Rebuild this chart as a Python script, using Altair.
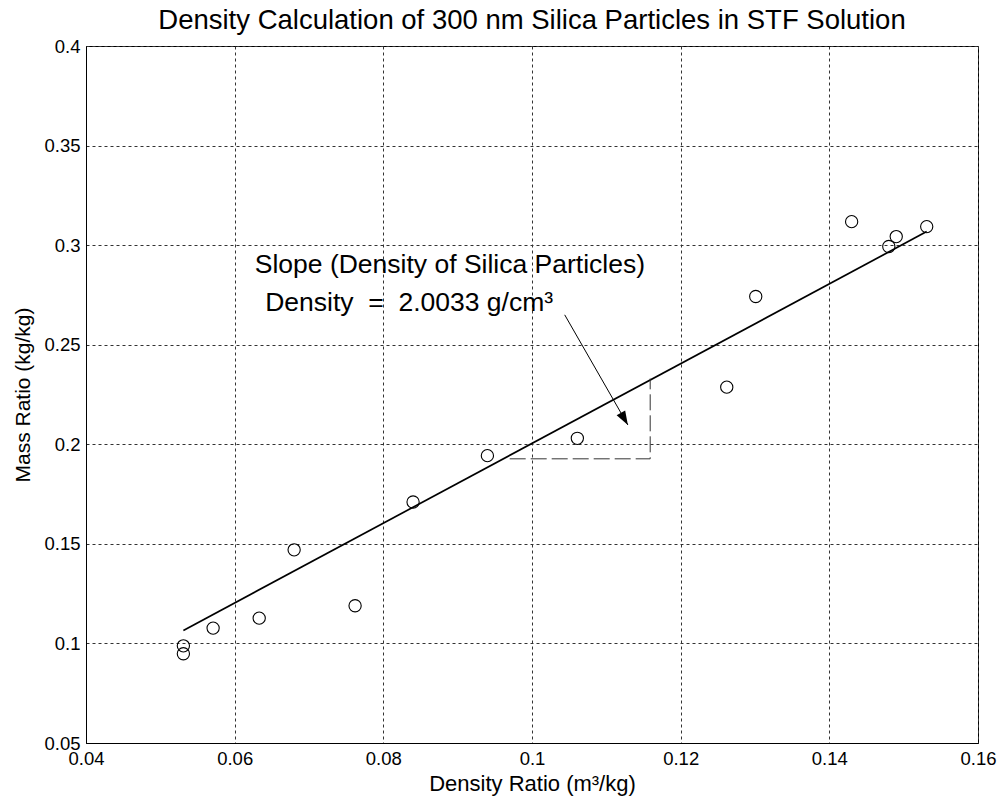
import altair as alt
import pandas as pd

# Measured data points (density ratio, mass ratio)
x_vals = [0.0531, 0.0531, 0.0571, 0.0633, 0.068, 0.0762, 0.084, 0.094,
          0.1061, 0.1262, 0.1301, 0.143, 0.148, 0.149, 0.1531]
y_vals = [0.0988, 0.0948, 0.1077, 0.1127, 0.147, 0.1189, 0.171, 0.1943,
          0.203, 0.2287, 0.2742, 0.3118, 0.2993, 0.3043, 0.3093]

# Linear fit line end points
fit_x = [0.0531, 0.1531]
fit_y = [0.1065, 0.3068]

# Slope triangle (dashed)
tri_x = [0.097, 0.1159, 0.1159]
tri_y = [0.1927, 0.1927, 0.233]

# Annotation arrow
arrow_x = [0.1044, 0.1129]
arrow_y = [0.265, 0.2097]

# Annotation texts
note_text = ["Slope (Density of Silica Particles)",
             "Density\u00a0\u00a0=\u00a0\u00a02.0033 g/cm³"]
note_x = [0.0627, 0.0641]
note_y = [0.290, 0.271]

x_ticks = [0.04, 0.06, 0.08, 0.10, 0.12, 0.14, 0.16]
y_ticks = [0.05, 0.10, 0.15, 0.20, 0.25, 0.30, 0.35, 0.40]

FONT = "Liberation Sans"

pts = pd.DataFrame({"x": x_vals, "y": y_vals})
fit = pd.DataFrame({"x": fit_x, "y": fit_y})
tri = pd.DataFrame({"x": tri_x, "y": tri_y, "o": list(range(len(tri_x)))})
arr = pd.DataFrame({"x": arrow_x, "y": arrow_y, "o": list(range(len(arrow_x)))})
head = arr.iloc[[-1]]
notes = pd.DataFrame({"x": note_x, "y": note_y, "t": note_text})

xscale = alt.Scale(domain=[0.04, 0.16], nice=False, zero=False)
yscale = alt.Scale(domain=[0.05, 0.40], nice=False, zero=False)

xaxis = alt.Axis(values=x_ticks, format="~g", title="Density Ratio (m³/kg)",
                 titleX=446, titleY=47, titleBaseline="alphabetic",
                 titleAlign="center", titleFontSize=22, labelFlush=False)
yaxis = alt.Axis(values=y_ticks, format="~g", title="Mass Ratio (kg/kg)",
                 titleX=-63, titleY=348.5, titleBaseline="middle",
                 titleAlign="center", titleAngle=-90, titleFontSize=21,
                 labelFlush=False)

def X():
    return alt.X("x:Q", scale=xscale, axis=xaxis)

def Y():
    return alt.Y("y:Q", scale=yscale, axis=yaxis)

points = alt.Chart(pts).mark_point(shape="circle", filled=False, color="black",
                                   size=150, strokeWidth=1.1, opacity=1).encode(x=X(), y=Y())

fitline = alt.Chart(fit).mark_line(color="black", strokeWidth=1.7).encode(x=X(), y=Y())

triangle = alt.Chart(tri).mark_line(color="#333333", strokeWidth=1,
                                    strokeDash=[16, 5]).encode(x=X(), y=Y(), order="o:Q")

arrow = alt.Chart(arr).mark_line(color="black", strokeWidth=1).encode(x=X(), y=Y(), order="o:Q")

arrowhead = alt.Chart(head).mark_point(
    shape="M0,0 L-0.7,2 L0.7,2 Z", filled=True, color="black", size=196,
    angle=150, opacity=1, strokeWidth=0
).encode(x=X(), y=Y())

text = alt.Chart(notes).mark_text(align="left", baseline="middle", fontSize=26.5,
                                  font=FONT, color="black").encode(x=X(), y=Y(), text="t:N")

chart = alt.layer(points, fitline, triangle, arrow, arrowhead, text).properties(
    width=892, height=697,
    background="white",
    title=alt.TitleParams("Density Calculation of 300 nm Silica Particles in STF Solution",
                          anchor="middle", fontSize=27.5, font=FONT, fontWeight="normal",
                          color="black", baseline="alphabetic", offset=-19),
    autosize=alt.AutoSizeParams(type="none"),
    padding={"left": 86, "top": 46, "right": 22, "bottom": 68},
).configure_view(stroke="black", strokeWidth=1).configure_axis(
    labelFont=FONT, labelFontSize=18.5, labelColor="black",
    titleFont=FONT, titleFontWeight="normal", titleColor="black",
    grid=True, gridColor="#333333", gridDash=[3, 3], gridWidth=1, gridOpacity=1,
    domainColor="black", domainWidth=1, ticks=False, labelPadding=6,
)

chart.save("out.html", embed_options={"renderer": "svg", "actions": False})
